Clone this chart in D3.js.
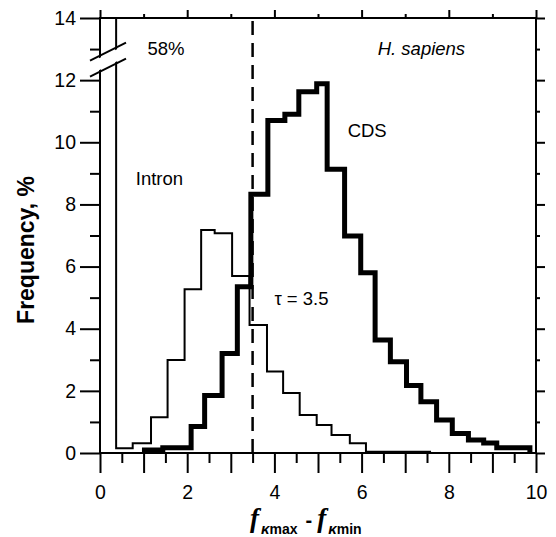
<!DOCTYPE html>
<html>
<head>
<meta charset="utf-8">
<script src="https://cdn.jsdelivr.net/npm/d3@7"></script>
<style>
body { margin: 0; background: #fff; }
text { font-family: "Liberation Sans", Arial, sans-serif; }
</style>
</head>
<body>
<div id="chart"></div>
<script>
// histogram bins (left edges + last right edge)
var intronEdges = [0, 0.37, 0.75, 1.17, 1.55, 1.94, 2.32, 2.63, 3.03, 3.43, 3.83, 4.2, 4.58, 4.97, 5.31, 5.73, 6.1, 7.57, 10];
var intronValues = [58, 0.15, 0.31, 1.15, 2.99, 5.27, 7.18, 7.07, 5.7, 4.12, 2.62, 1.93, 1.22, 0.9, 0.58, 0.31, 0.04, 0];

var cdsEdges = [1.02, 1.44, 2.09, 2.4, 2.8, 3.15, 3.46, 3.85, 4.24, 4.56, 4.97, 5.21, 5.61, 5.98, 6.31, 6.66, 7.03, 7.36, 7.72, 8.08, 8.45, 8.8, 9.1, 9.86];
var cdsValues = [0.1, 0.17, 0.85, 1.85, 3.2, 5.35, 8.33, 10.7, 10.9, 11.63, 11.88, 9.13, 6.98, 5.8, 3.64, 2.94, 2.17, 1.65, 1.06, 0.63, 0.42, 0.32, 0.17];

var tau = 3.5;
var breakAt = 12.66;

var xMajorTicks = [0, 1, 2, 3, 4, 5, 6, 7, 8, 9, 10];
var xHalfTicks = [0.5, 1.5, 2.5, 3.5, 4.5, 5.5, 6.5, 7.5, 8.5, 9.5];
var xTopMajor = [0, 2, 4, 6, 8, 10];
var xTopMinor = [1, 3, 5, 7, 9];
var yMajorTicks = [0, 2, 4, 6, 8, 10, 12, 14];
var yMinorTicks = [1, 3, 5, 7, 9, 11, 13];

var margin = { top: 18, right: 20, bottom: 84, left: 100 };
var width = 556 - margin.left - margin.right,
	height = 537 - margin.top - margin.bottom;

var svg = d3.select("#chart").append("svg")
	.attr("width", 556)
	.attr("height", 537);

var g = svg.append("g")
	.attr("transform", "translate(" + margin.left + "," + margin.top + ")");

var x = d3.scaleLinear().domain([0, 10]).range([0, width]);
var y = d3.scaleLinear().domain([0, 14]).range([height, 0]);

svg.append("defs").append("clipPath")
	.attr("id", "plotclip")
	.append("rect")
	.attr("width", width)
	.attr("height", height);

function addAxis(axis, tx, ty, labels) {
	var a = g.append("g")
		.attr("transform", "translate(" + tx + "," + ty + ")")
		.call(axis);
	a.select(".domain").remove();
	a.selectAll(".tick line").attr("stroke", "#000").attr("stroke-width", 2);
	a.selectAll("text")
		.attr("fill", "#000")
		.style("font-size", "19.5px")
		.style("display", labels ? null : "none");
	return a;
}

// bottom: integers long, halves short, labels on even numbers
addAxis(d3.axisBottom(x).tickValues(xMajorTicks).tickSize(20).tickPadding(12)
	.tickFormat(function(d){ return d % 2 === 0 ? d : ""; }), 0, height, true);
addAxis(d3.axisBottom(x).tickValues(xHalfTicks).tickSize(10), 0, height, false);
addAxis(d3.axisTop(x).tickValues(xTopMajor).tickSize(8), 0, 0, false);
addAxis(d3.axisTop(x).tickValues(xTopMinor).tickSize(4), 0, 0, false);

addAxis(d3.axisLeft(y).tickValues(yMajorTicks).tickSize(20).tickPadding(4), 0, 0, true);
addAxis(d3.axisLeft(y).tickValues(yMinorTicks).tickSize(10), 0, 0, false);
addAxis(d3.axisRight(y).tickValues(yMajorTicks).tickSize(9), width, 0, false);
addAxis(d3.axisRight(y).tickValues(yMinorTicks).tickSize(4), width, 0, false);

function stepPoints(edges, vals) {
	var pts = [[edges[0], 0]];
	vals.forEach(function(v, i){ pts.push([edges[i], v]); });
	pts.push([edges[edges.length - 1], 0]);
	return pts;
}

var line = d3.line()
	.x(function(d){ return x(d[0]); })
	.y(function(d){ return y(d[1]); })
	.curve(d3.curveStepAfter);

var plot = g.append("g").attr("clip-path", "url(#plotclip)");

plot.append("path")
	.attr("d", line(stepPoints(intronEdges, intronValues)))
	.attr("fill", "none")
	.attr("stroke", "#000")
	.attr("stroke-width", 2);

plot.append("line")
	.attr("x1", x(tau)).attr("x2", x(tau))
	.attr("y1", y(0)).attr("y2", y(14))
	.attr("stroke", "#000")
	.attr("stroke-width", 2.5)
	.attr("stroke-dasharray", "14,8");

plot.append("path")
	.attr("d", line(stepPoints(cdsEdges, cdsValues)))
	.attr("fill", "none")
	.attr("stroke", "#000")
	.attr("stroke-width", 5)
	.attr("stroke-linejoin", "miter");

// frame
g.append("rect")
	.attr("width", width)
	.attr("height", height)
	.attr("fill", "none")
	.attr("stroke", "#000")
	.attr("stroke-width", 2);

// axis break on the 58% bar
var bx = x(0) + 8, by = y(breakAt);
function slashY(px, off) { return by + off - 0.5 * (px - bx); }
g.append("polygon")
	.attr("points", [[-8, slashY(-8, -6)], [26, slashY(26, -6)], [26, slashY(26, 6)], [-8, slashY(-8, 6)]]
		.map(function(p){ return p.join(","); }).join(" "))
	.attr("fill", "#fff");
[-8, 8].forEach(function(off) {
	g.append("line")
		.attr("x1", -10).attr("y1", slashY(-10, off))
		.attr("x2", 26).attr("y2", slashY(26, off))
		.attr("stroke", "#000")
		.attr("stroke-width", 2);
});

// annotations
function note(txt, dx, dy, italic, anchor) {
	g.append("text")
		.attr("x", x(dx))
		.attr("y", y(dy))
		.attr("text-anchor", anchor || "start")
		.style("font-size", "18.5px")
		.style("font-style", italic ? "italic" : "normal")
		.text(txt);
}
note("58%", 1.09, 12.8);
note("H. sapiens", 6.37, 12.8, true);
note("CDS", 5.68, 10.17);
note("Intron", 0.82, 8.63);
note("\u03c4 = 3.5", 4.0, 4.76);

// axis titles
svg.append("text")
	.attr("transform", "translate(34,250) rotate(-90)")
	.attr("text-anchor", "middle")
	.style("font-size", "23px")
	.style("font-weight", "bold")
	.text("Frequency, %");

var xt = svg.append("text")
	.attr("x", 250)
	.attr("y", 527)
	.style("font-weight", "bold");
function part(txt, size, serif, italic, dy, dx) {
	xt.append("tspan")
		.attr("dy", dy || 0)
		.attr("dx", dx || 0)
		.style("font-size", size + "px")
		.style("font-family", serif ? "'Liberation Serif', 'Times New Roman', serif" : null)
		.style("font-style", italic ? "italic" : "normal")
		.text(txt);
}
part("f", 27, true, true, 0, 0);
part("\u03ba", 15, false, true, 7, 2);
part("max", 14, false, false, 0, 0);
part("-", 20, false, false, -7, 8);
part("f", 27, true, true, 0, 5);
part("\u03ba", 15, false, true, 7, 2);
part("min", 14, false, false, 0, 0);
</script>
</body>
</html>
